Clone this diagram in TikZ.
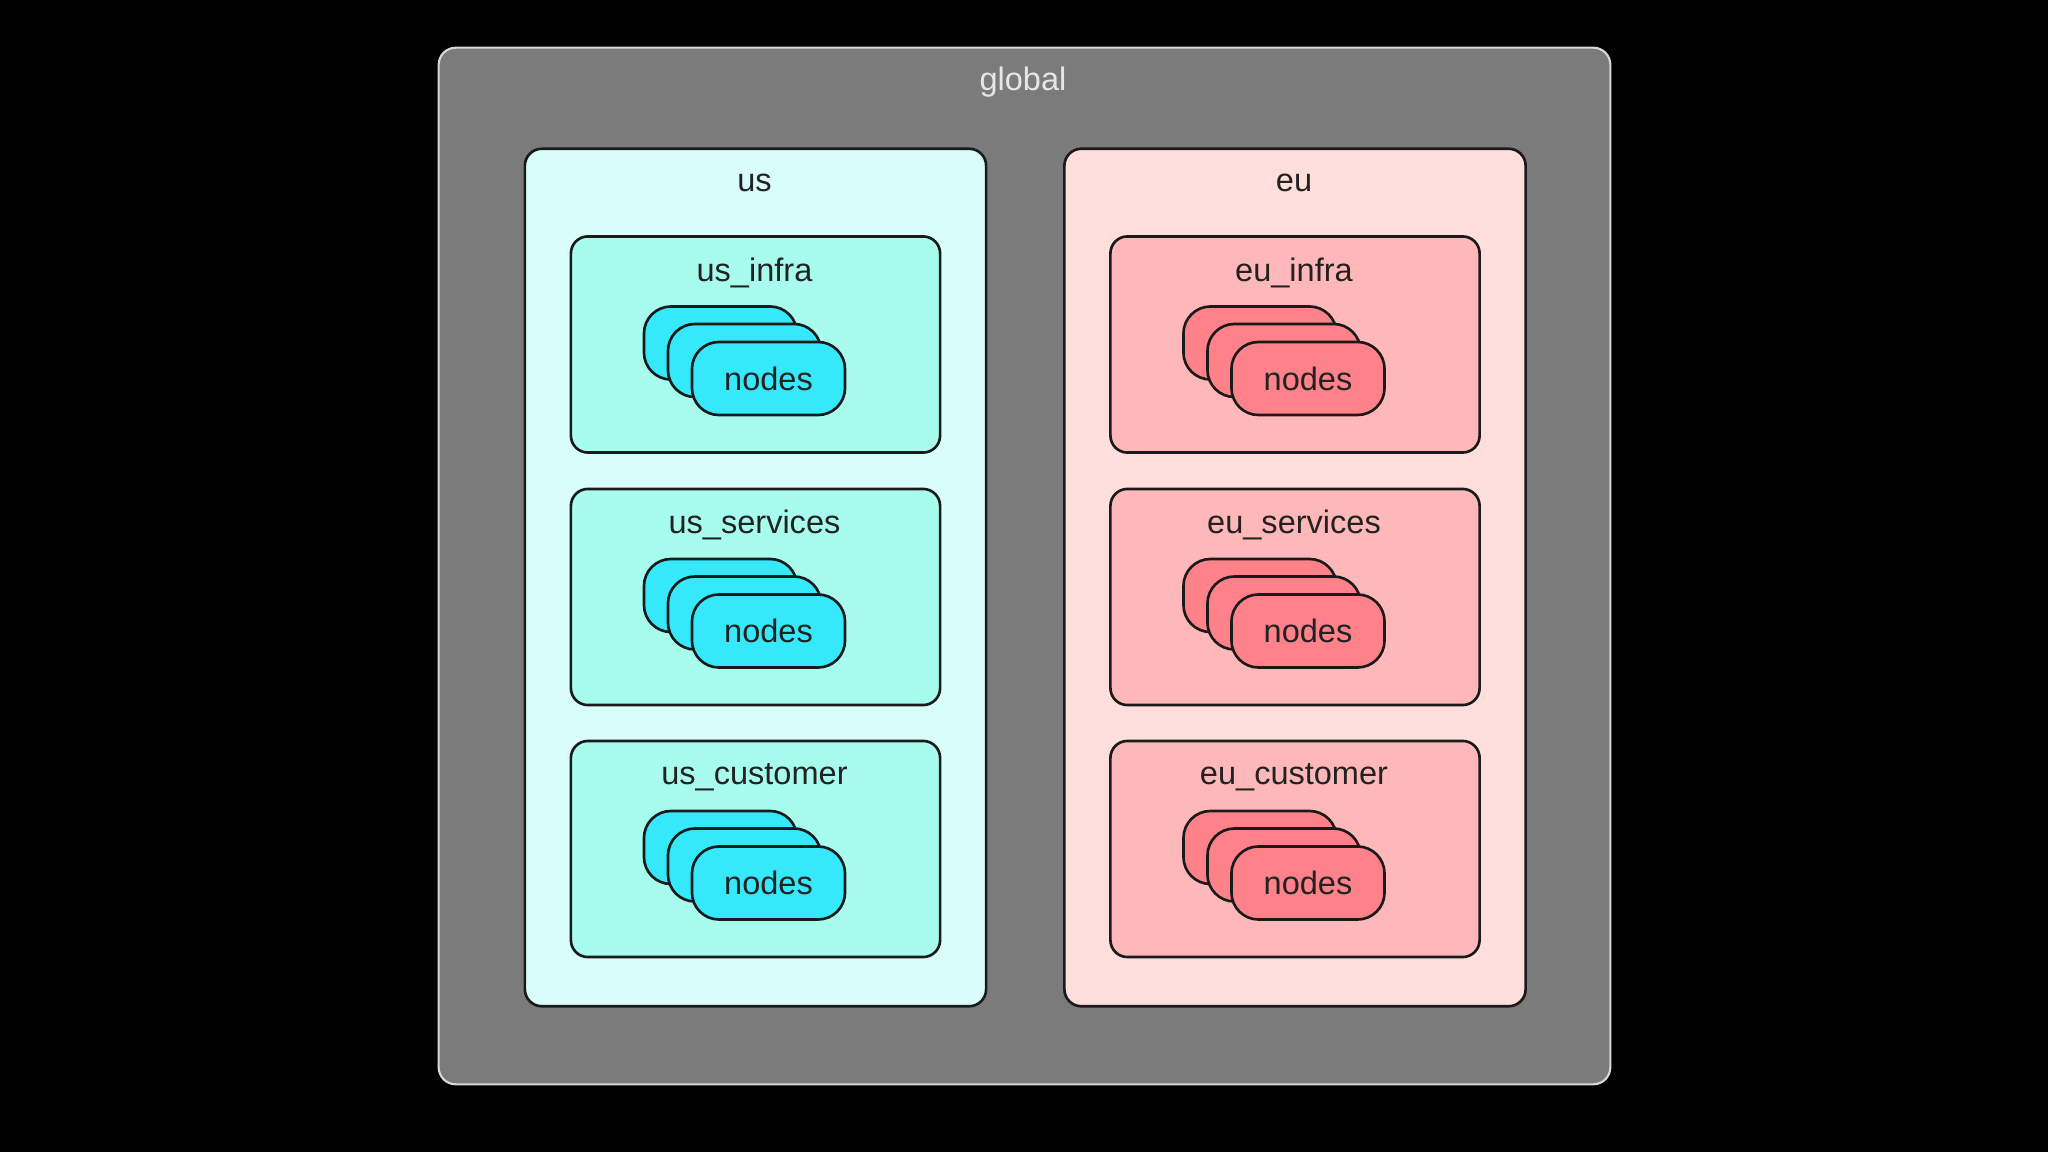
\documentclass[tikz,border=0pt]{standalone}
\usepackage{fontspec}
\setmainfont{Liberation Sans}
\definecolor{globf}{HTML}{7B7B7B}
\definecolor{globb}{HTML}{D8D8D8}
\definecolor{globt}{HTML}{E6E6E6}
\definecolor{linec}{HTML}{1A1A1A}
\definecolor{txtc}{HTML}{222222}
\definecolor{usbg}{HTML}{D9FDFB}
\definecolor{ussub}{HTML}{A7FCEE}
\definecolor{usnode}{HTML}{35E9FB}
\definecolor{eubg}{HTML}{FFDEDC}
\definecolor{eusub}{HTML}{FFB8B9}
\definecolor{eunode}{HTML}{FF8189}
\begin{document}
\begin{tikzpicture}[x=0.01cm,y=-0.01cm,
  box/.style={draw=linec, line width=0.75pt, rounded corners=0.17cm, inner sep=0pt},
  ttl/.style={font=\fontsize{9.25}{11}\selectfont, text=txtc, inner sep=0pt},
  nd/.style={draw=linec, line width=0.75pt, rounded corners=0.27cm, minimum width=1.53cm, minimum height=0.73cm, inner sep=0pt}]
\fill[black] (0,0) rectangle (2048,1152);
\useasboundingbox (0,0) rectangle (2048,1152);
\node[draw=globb, fill=globf, line width=0.6pt, rounded corners=0.17cm, minimum width=11.71cm, minimum height=10.36cm, inner sep=0pt] (global) at (1024.5,566) {};
\node[ttl, text=globt] (globaltitle) at (1023,82) {global};
\foreach \r/\cx/\bg/\sb/\nf in {us/755.5/usbg/ussub/usnode, eu/1295/eubg/eusub/eunode}{
  \node[box, fill=\bg, minimum width=4.61cm, minimum height=8.57cm] (\r) at (\cx,577.5) {};
  \node[ttl] (\r-title) at (\cx-1,183) {\r};
  \foreach \s/\cy in {infra/344.5, services/597, customer/849}{
    \node[box, fill=\sb, minimum width=3.69cm, minimum height=2.16cm] (\r-\s) at (\cx,\cy) {};
    \node[ttl] (\r-\s-title) at (\cx-1,\cy-72) {\r\_\s};
    \node[nd, fill=\nf] (\r-\s-n1) at (\cx-35,\cy-1.5) {};
    \node[nd, fill=\nf] (\r-\s-n2) at (\cx-11,\cy+16) {};
    \node[nd, fill=\nf, font=\fontsize{9.25}{11}\selectfont, text=txtc] (\r-\s-n3) at (\cx+13,\cy+34) {nodes};
  }
}
\end{tikzpicture}
\end{document}
